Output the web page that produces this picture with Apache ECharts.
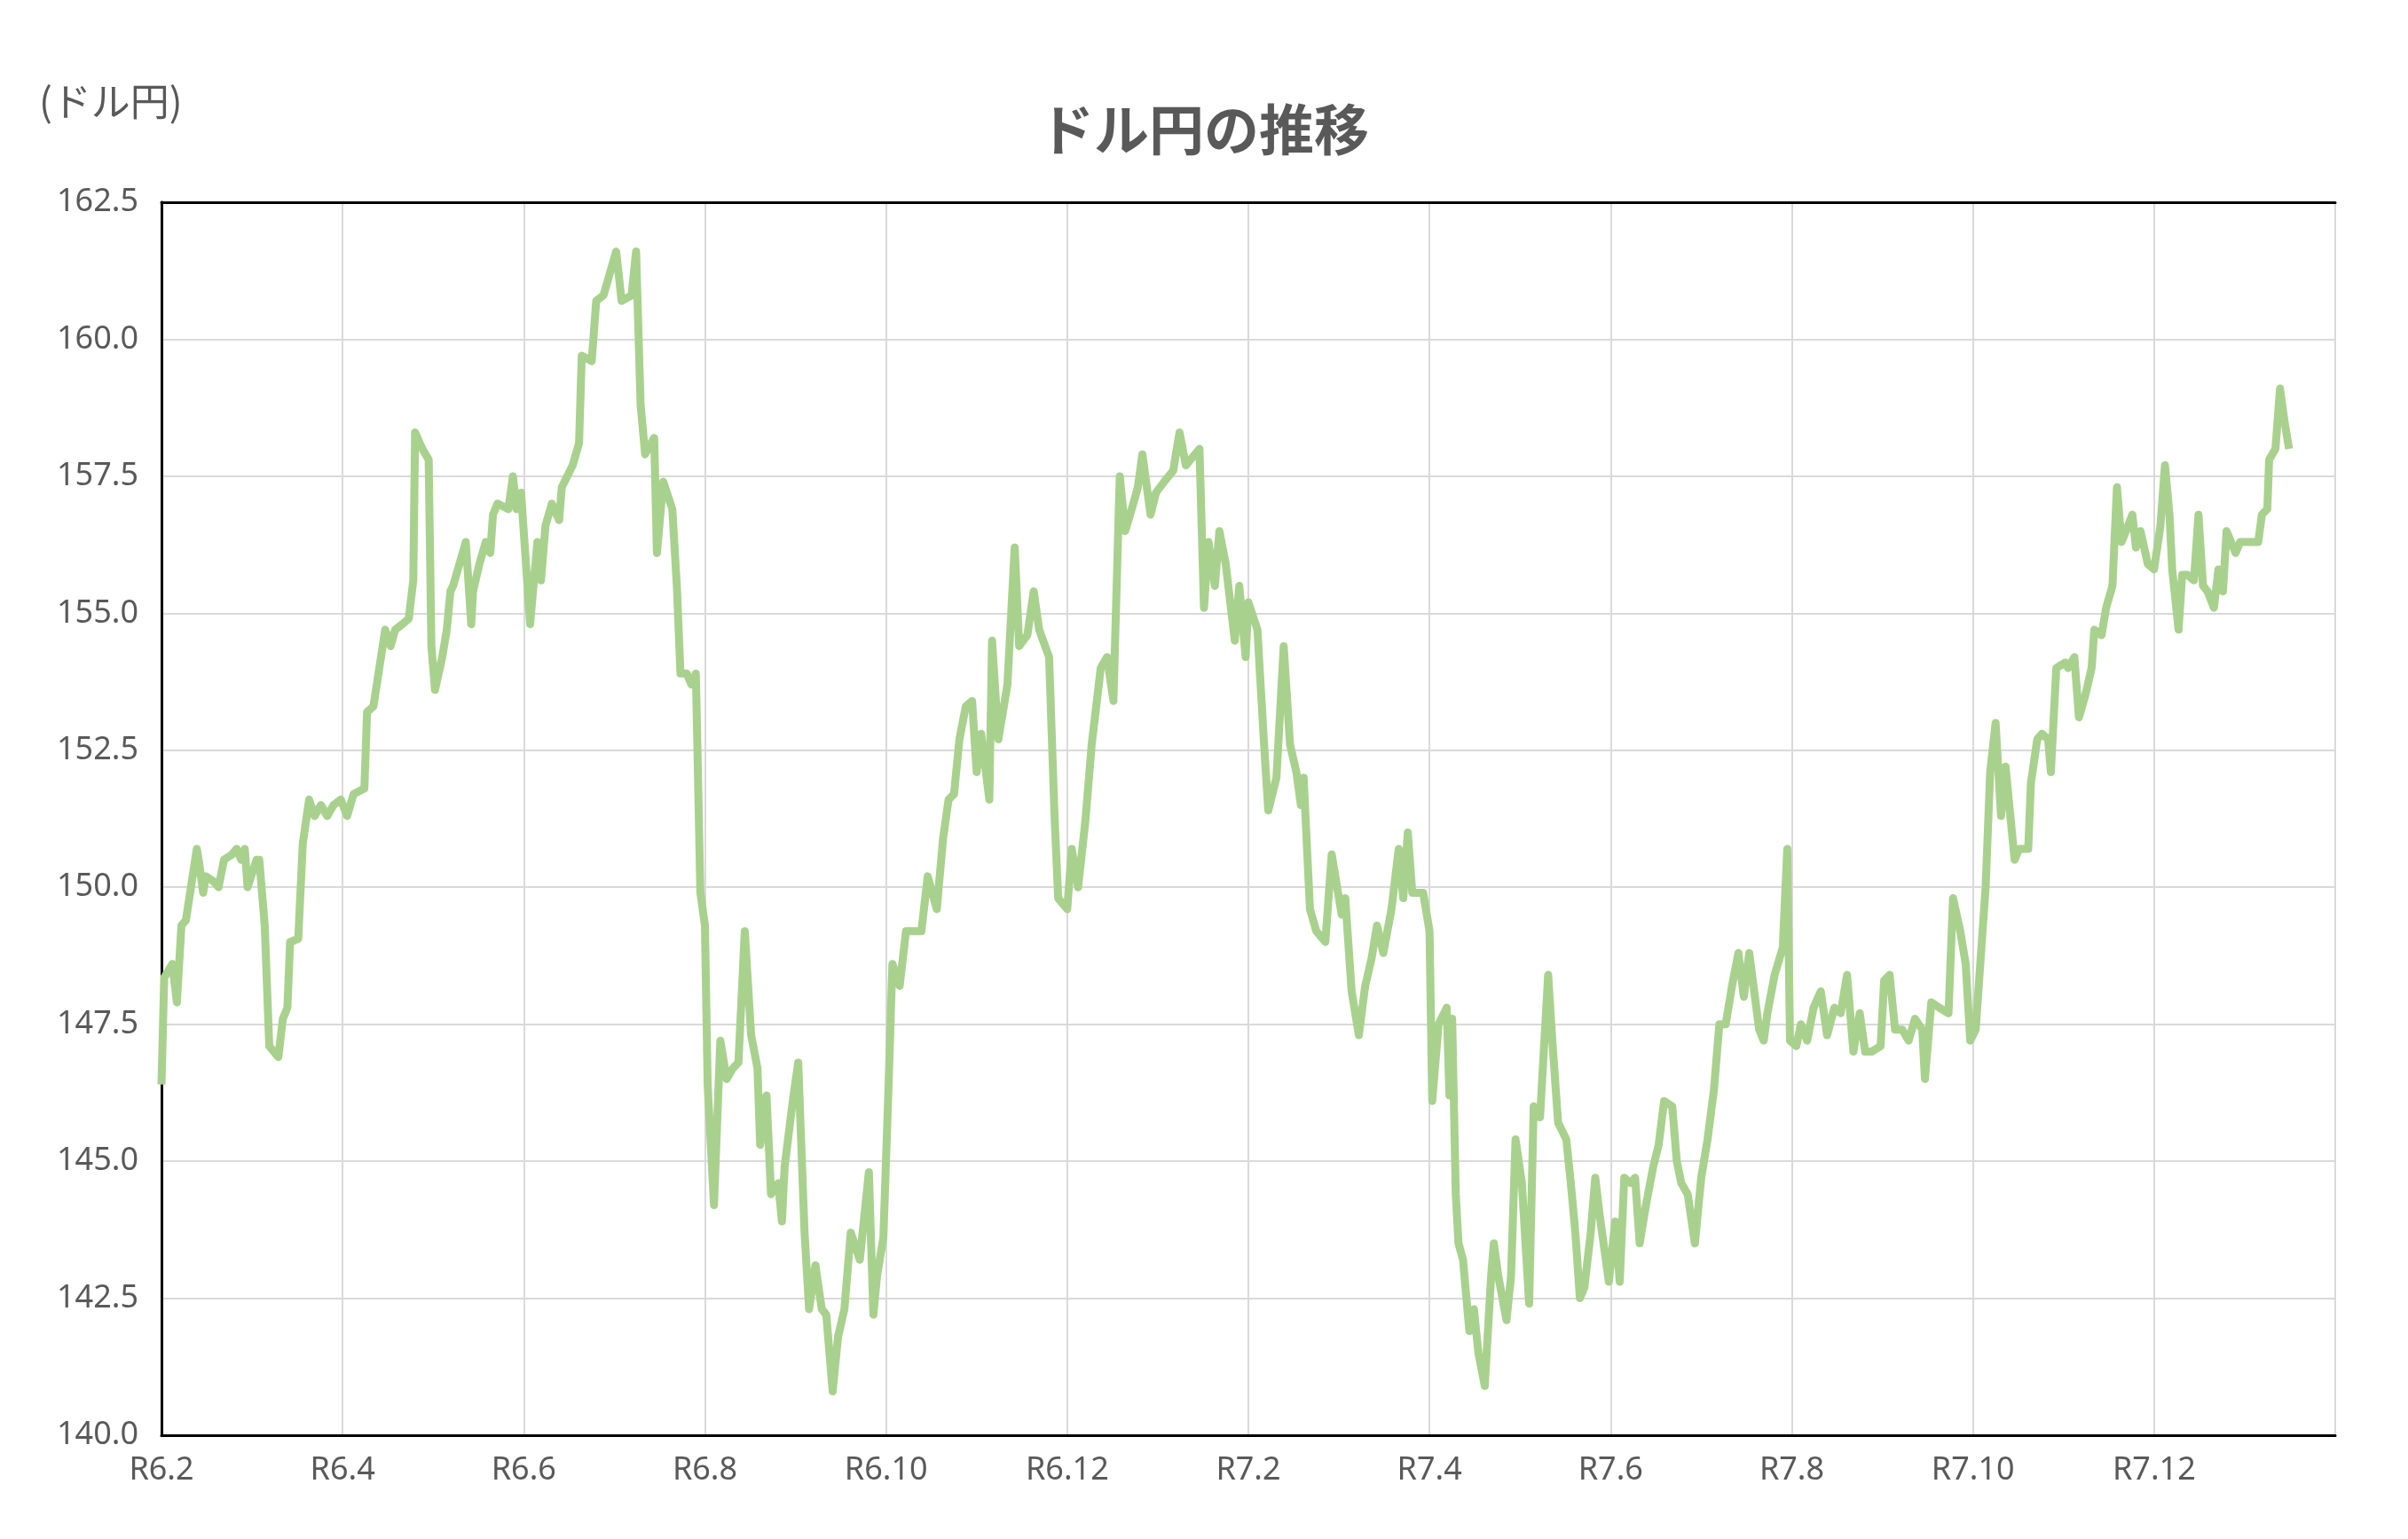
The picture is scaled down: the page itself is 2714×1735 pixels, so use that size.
<!DOCTYPE html>
<html><head><meta charset="utf-8">
<script src="https://cdn.jsdelivr.net/npm/echarts@6/dist/echarts.min.js"></script>
<style>html,body{margin:0;padding:0;background:#fff}#c{width:2714px;height:1735px}</style>
</head><body><div id="c"></div>
<script>
// 月数(R6.2 起点) と ドル円レート
const months = [0,.03,.12,.17,.22,.27,.39,.42,.46,.49,.58,.63,.69,.78,.83,.88,.92,.95,1.05,1.08,1.14,1.19,1.29,1.34,1.39,1.42,1.51,1.56,1.63,1.69,1.76,1.83,1.90,1.98,2.05,2.12,2.24,2.27,2.34,2.47,2.53,2.58,2.66,2.73,2.78,2.80,2.88,2.95,2.98,3.02,3.10,3.15,3.19,3.22,3.36,3.42,3.44,3.51,3.58,3.63,3.66,3.71,3.83,3.88,3.92,3.97,4.07,4.15,4.19,4.24,4.31,4.39,4.42,4.54,4.61,4.64,4.75,4.80,4.88,5.02,5.08,5.19,5.24,5.29,5.34,5.44,5.47,5.54,5.64,5.69,5.73,5.80,5.85,5.90,5.95,6.00,6.03,6.10,6.17,6.24,6.31,6.37,6.44,6.51,6.58,6.61,6.68,6.73,6.81,6.85,6.88,6.97,7.03,7.10,7.15,7.22,7.29,7.34,7.41,7.47,7.54,7.61,7.71,7.76,7.81,7.86,7.90,7.97,8.03,8.07,8.15,8.22,8.31,8.39,8.46,8.56,8.63,8.69,8.75,8.81,8.88,8.95,9.00,9.05,9.14,9.17,9.24,9.34,9.42,9.47,9.56,9.63,9.69,9.80,9.86,9.90,10.00,10.05,10.12,10.20,10.27,10.37,10.44,10.51,10.58,10.64,10.73,10.78,10.83,10.92,10.98,11.07,11.17,11.24,11.31,11.46,11.51,11.56,11.63,11.68,11.75,11.85,11.90,11.97,12.00,12.10,12.17,12.22,12.31,12.39,12.46,12.53,12.58,12.61,12.68,12.75,12.85,12.92,13.03,13.07,13.14,13.17,13.22,13.29,13.36,13.42,13.49,13.58,13.66,13.71,13.76,13.81,13.93,14.00,14.03,14.10,14.19,14.22,14.25,14.29,14.32,14.37,14.44,14.49,14.54,14.61,14.68,14.71,14.76,14.85,14.90,14.95,15.02,15.10,15.15,15.22,15.31,15.36,15.42,15.51,15.56,15.61,15.66,15.71,15.78,15.83,15.88,15.98,16.05,16.10,16.15,16.22,16.27,16.32,16.39,16.47,16.53,16.59,16.68,16.73,16.78,16.85,16.93,17.00,17.07,17.14,17.20,17.27,17.34,17.41,17.47,17.53,17.64,17.69,17.73,17.81,17.90,17.95,17.98,18.05,18.10,18.17,18.24,18.32,18.39,18.47,18.54,18.61,18.68,18.75,18.81,18.88,18.98,19.02,19.08,19.14,19.22,19.29,19.36,19.44,19.47,19.54,19.63,19.73,19.78,19.86,19.92,19.97,20.03,20.14,20.19,20.25,20.31,20.36,20.46,20.51,20.61,20.64,20.71,20.76,20.83,20.86,20.92,21.02,21.05,21.12,21.17,21.24,21.31,21.34,21.42,21.47,21.54,21.59,21.64,21.69,21.76,21.80,21.85,21.93,22.00,22.07,22.12,22.17,22.20,22.27,22.31,22.37,22.44,22.49,22.54,22.59,22.66,22.71,22.76,22.80,22.90,22.95,23.03,23.15,23.19,23.25,23.27,23.34,23.39,23.44,23.49];
const usdjpy = [146.4,148.35,148.6,147.9,149.3,149.4,150.7,150.4,149.9,150.2,150.1,150.0,150.5,150.6,150.7,150.5,150.7,150.0,150.5,150.5,149.3,147.1,146.9,147.6,147.8,149.0,149.06,150.8,151.6,151.3,151.5,151.3,151.5,151.6,151.3,151.7,151.8,153.2,153.3,154.7,154.4,154.7,154.8,154.9,155.6,158.3,158.0,157.8,154.4,153.6,154.2,154.7,155.4,155.5,156.3,154.8,155.4,155.9,156.3,156.1,156.8,157.0,156.9,157.5,156.9,157.2,154.8,156.3,155.6,156.6,157.0,156.7,157.3,157.7,158.1,159.7,159.6,160.7,160.8,161.6,160.7,160.8,161.6,158.8,157.9,158.2,156.1,157.4,156.9,155.5,153.9,153.9,153.7,153.9,149.9,149.3,146.4,144.2,147.2,146.5,146.7,146.8,149.2,147.3,146.7,145.3,146.2,144.4,144.6,143.9,144.9,146.1,146.8,143.7,142.3,143.1,142.3,142.2,140.8,141.8,142.3,143.7,143.2,144.0,144.8,142.2,142.9,143.6,146.5,148.6,148.2,149.2,149.2,149.2,150.2,149.6,150.9,151.6,151.7,152.7,153.3,153.4,152.1,152.8,151.6,154.5,152.7,153.7,156.2,154.4,154.6,155.4,154.7,154.2,151.3,149.8,149.6,150.7,150.0,151.2,152.6,154.0,154.2,153.4,157.5,156.5,157.0,157.3,157.9,156.8,157.2,157.4,157.6,158.3,157.7,158.0,155.1,156.3,155.5,156.5,155.9,154.5,155.5,154.2,155.2,154.7,152.7,151.4,152.0,154.4,152.6,152.1,151.5,152.0,149.6,149.2,149.0,150.6,149.5,149.8,148.1,147.8,147.3,148.2,148.7,149.3,148.8,149.6,150.7,149.8,151.0,149.9,149.9,149.2,146.1,147.5,147.8,146.2,147.6,144.4,143.5,143.2,141.9,142.3,141.5,140.9,142.9,143.5,142.9,142.1,142.9,145.4,144.6,142.4,146.0,145.8,148.4,147.1,145.7,145.4,144.6,143.7,142.5,142.7,143.7,144.7,144.0,142.8,143.9,142.8,144.7,144.6,144.7,143.5,144.2,144.9,145.3,146.1,146.0,145.0,144.6,144.4,143.5,144.7,145.4,146.3,147.5,147.5,148.2,148.8,148.0,148.8,147.4,147.2,147.7,148.4,148.9,150.7,147.2,147.1,147.5,147.2,147.8,148.1,147.3,147.8,147.7,148.4,147.0,147.7,147.0,147.0,147.1,148.3,148.4,147.4,147.4,147.2,147.6,147.4,146.5,147.9,147.8,147.7,149.8,149.2,148.6,147.2,147.4,150.0,152.1,153.0,151.3,152.2,150.5,150.7,150.7,151.9,152.7,152.8,152.7,152.1,154.0,154.1,154.0,154.2,153.1,153.5,154.0,154.7,154.6,155.1,155.5,157.3,156.3,156.5,156.8,156.2,156.5,155.9,155.8,156.6,157.7,156.8,155.8,154.7,155.7,155.7,155.6,156.8,155.5,155.4,155.1,155.8,155.4,156.5,156.1,156.3,156.3,156.3,156.8,156.9,157.8,158.0,159.1,158.5,158.0];

const monthLabel = (i) => {
  const mm = 2 + i
  return mm > 12 ? 'R7.' + (mm - 12) : 'R6.' + mm
}

const chart = echarts.init(document.getElementById('c'))
const txt = '#595959'
const frame = {show: true, lineStyle: {color: '#000', width: 3}}
chart.setOption({
  animation: false,
  title: {
    text: 'ドル円の推移', left: 'center', top: 110,
    textStyle: {fontSize: 62, fontWeight: 'bold', color: txt, fontFamily: 'Noto Sans CJK JP'},
  },
  graphic: [{
    type: 'text', left: 44, top: 92,
    style: {text: '(ドル円)', fontSize: 44, fill: txt, fontFamily: 'Noto Sans CJK JP'},
  }],
  grid: {left: 182, right: 82, top: 228, bottom: 117},
  xAxis: [{
    type: 'value', min: 0, max: 24, interval: 2,
    axisLine: {...frame, onZero: false}, axisTick: {show: false},
    splitLine: {lineStyle: {color: '#d9d9d9', width: 2}},
    axisLabel: {
      color: txt, fontSize: 36, margin: 22, fontFamily: 'Noto Sans',
      formatter: (v) => v >= 24 ? '' : monthLabel(v),
    },
  }, {
    type: 'value', position: 'top', min: 0, max: 24,
    axisLine: {...frame, onZero: false}, axisTick: {show: false}, axisLabel: {show: false}, splitLine: {show: false},
  }],
  yAxis: [{
    type: 'value', min: 140, max: 162.5, interval: 2.5,
    axisLine: frame, axisTick: {show: false},
    splitLine: {lineStyle: {color: '#d9d9d9', width: 2}},
    axisLabel: {color: txt, fontSize: 36, margin: 26, fontFamily: 'Noto Sans', formatter: (v) => v.toFixed(1)},
  }, {
    type: 'value', position: 'right', min: 140, max: 162.5,
    axisLine: frame, axisTick: {show: false}, axisLabel: {show: false}, splitLine: {show: false},
  }],
  series: [{
    type: 'line', showSymbol: false,
    data: months.map((m, i) => [m, usdjpy[i]]),
    lineStyle: {color: '#a9d18e', width: 9, join: 'round'},
  }],
})
</script></body></html>
